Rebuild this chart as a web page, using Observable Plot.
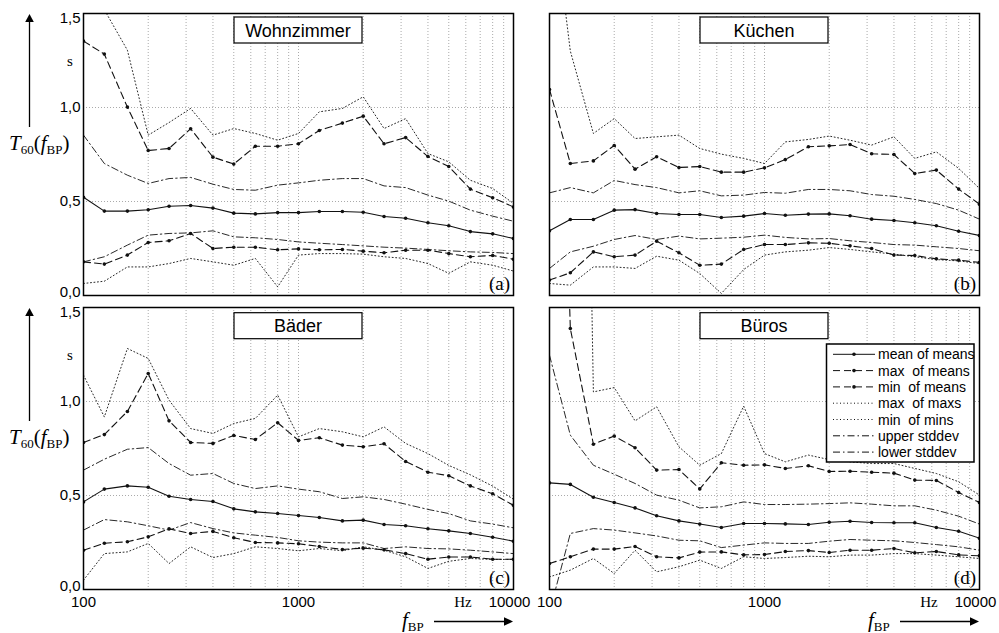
<!DOCTYPE html>
<html><head><meta charset="utf-8">
<script src="https://cdn.jsdelivr.net/npm/d3@7"></script>
<script src="https://cdn.jsdelivr.net/npm/@observablehq/plot@0.6"></script>
<style>
body{margin:0;background:#fff;}
#wrap{position:relative;width:999px;height:633px;overflow:hidden;background:#fff;font-family:"Liberation Sans",Arial,sans-serif;}
#wrap svg{position:absolute;}
g[aria-label="y-axis tick label"], g[aria-label="x-axis tick label"]{font-size:15px !important;}
</style></head><body><div id="wrap"></div>
<script>
// third-octave band centre frequencies (Hz)
const freqs = [100,125,160,200,250,315,400,500,630,800,1000,1250,1600,2000,2500,3150,4000,5000,6300,8000,10000];
const xTickLabels = [100, 1000];
const xTickLast = [10000];
const yTickMid = [0.5, 1.0];
const yTickTop = [1.5];
const yTickBottom = [0];
const legendLabels = ["mean of means","max  of means","min  of means","max  of maxs","min  of mins","upper stddev","lower stddev"];
const roomNames = ["Wohnzimmer","Küchen","Bäder","Büros"];
const panelTags = ["(a)","(b)","(c)","(d)"];

// (a) Wohnzimmer
const meanA    = [0.523,0.449,0.449,0.456,0.475,0.479,0.465,0.438,0.434,0.441,0.441,0.447,0.447,0.443,0.420,0.411,0.387,0.371,0.340,0.328,0.303];
const maxMeanA = [1.353,1.284,1.002,0.771,0.782,0.887,0.736,0.699,0.794,0.794,0.807,0.878,0.917,0.954,0.807,0.840,0.739,0.686,0.566,0.520,0.471];
const minMeanA = [0.179,0.167,0.215,0.282,0.291,0.330,0.250,0.257,0.257,0.243,0.248,0.243,0.245,0.236,0.227,0.241,0.241,0.223,0.206,0.213,0.193];
const maxMaxA  = [1.75,1.52,1.305,0.853,0.92,0.995,0.853,0.888,0.862,0.826,0.862,0.977,0.995,1.057,0.888,0.941,0.755,0.711,0.613,0.569,0.49];
const minMinA  = [0.064,0.076,0.152,0.152,0.170,0.197,0.179,0.161,0.197,0.046,0.215,0.223,0.223,0.220,0.206,0.197,0.170,0.118,0.179,0.161,0.13];
const upperA   = [0.853,0.702,0.640,0.596,0.622,0.628,0.592,0.564,0.560,0.587,0.599,0.613,0.622,0.622,0.583,0.574,0.534,0.502,0.454,0.422,0.395];
const lowerA   = [0.179,0.206,0.268,0.321,0.330,0.333,0.344,0.312,0.307,0.298,0.285,0.278,0.271,0.264,0.257,0.252,0.245,0.238,0.232,0.229,0.223];

// (b) Küchen
const meanB    = [0.344,0.404,0.404,0.454,0.457,0.436,0.431,0.431,0.415,0.422,0.436,0.427,0.433,0.434,0.424,0.406,0.399,0.387,0.371,0.342,0.319];
const maxMeanB = [1.096,0.702,0.716,0.798,0.672,0.738,0.681,0.686,0.656,0.656,0.679,0.723,0.791,0.796,0.803,0.754,0.750,0.649,0.667,0.566,0.486];
const minMeanB = [0.082,0.121,0.232,0.206,0.215,0.289,0.227,0.161,0.167,0.245,0.271,0.271,0.280,0.278,0.264,0.250,0.215,0.213,0.195,0.188,0.176];
const maxMaxB  = [2.2,1.30,0.862,0.941,0.835,0.844,0.853,0.782,0.752,0.729,0.702,0.817,0.830,0.848,0.826,0.800,0.844,0.729,0.764,0.676,0.569];
const minMinB  = [0.064,0.055,0.152,0.152,0.144,0.209,0.188,0.117,0.011,0.138,0.215,0.232,0.241,0.255,0.245,0.232,0.220,0.206,0.191,0.184,0.170];
const upperB   = [0.546,0.574,0.546,0.612,0.590,0.574,0.546,0.557,0.530,0.534,0.548,0.544,0.564,0.564,0.557,0.537,0.528,0.511,0.489,0.454,0.406];
const lowerB   = [0.144,0.232,0.262,0.298,0.319,0.298,0.316,0.301,0.305,0.310,0.321,0.309,0.301,0.303,0.291,0.282,0.271,0.268,0.259,0.250,0.238];

// (c) Bäder
const meanC    = [0.466,0.534,0.551,0.544,0.496,0.479,0.468,0.429,0.413,0.404,0.394,0.383,0.365,0.369,0.346,0.339,0.323,0.312,0.298,0.278,0.257];
const maxMeanC = [0.782,0.824,0.947,1.149,0.897,0.782,0.777,0.819,0.798,0.887,0.793,0.807,0.768,0.759,0.775,0.681,0.624,0.605,0.551,0.509,0.448];
const minMeanC = [0.209,0.246,0.254,0.280,0.323,0.298,0.309,0.275,0.250,0.248,0.243,0.229,0.213,0.220,0.211,0.191,0.161,0.173,0.173,0.161,0.161];
const maxMaxC  = [1.140,0.918,1.282,1.229,1.007,0.856,0.830,0.883,0.910,1.034,0.812,0.856,0.839,0.812,0.865,0.777,0.723,0.66,0.61,0.55,0.48];
const minMinC  = [0.050,0.191,0.200,0.245,0.138,0.227,0.170,0.191,0.227,0.218,0.206,0.218,0.206,0.227,0.209,0.174,0.112,0.150,0.165,0.160,0.160];
const upperC   = [0.635,0.693,0.746,0.755,0.670,0.608,0.617,0.564,0.537,0.551,0.534,0.520,0.484,0.493,0.479,0.454,0.426,0.404,0.365,0.348,0.328];
const lowerC   = [0.316,0.372,0.360,0.339,0.316,0.356,0.324,0.301,0.289,0.277,0.259,0.252,0.248,0.248,0.218,0.227,0.218,0.216,0.209,0.200,0.191];

// (d) Büros
const meanD    = [0.567,0.559,0.491,0.463,0.434,0.392,0.365,0.348,0.330,0.351,0.351,0.349,0.346,0.358,0.363,0.356,0.355,0.355,0.330,0.310,0.273];
const maxMeanD = [5.0,1.388,0.773,0.816,0.754,0.635,0.638,0.535,0.674,0.661,0.663,0.644,0.658,0.628,0.629,0.624,0.619,0.582,0.580,0.516,0.463];
const minMeanD = [0.138,0.174,0.215,0.215,0.229,0.174,0.168,0.199,0.200,0.184,0.186,0.202,0.207,0.197,0.209,0.209,0.218,0.195,0.202,0.184,0.179];
const maxMaxD  = [8.0,8.0,1.051,1.074,0.897,0.972,0.759,0.661,0.723,0.975,0.723,0.679,0.715,0.691,0.679,0.670,0.670,0.644,0.617,0.573,0.502];
const minMinD  = [0.067,0.103,0.165,0.085,0.209,0.094,0.121,0.156,0.112,0.174,0.165,0.170,0.177,0.174,0.183,0.183,0.191,0.191,0.183,0.174,0.165];
const upperD   = [1.246,0.821,0.661,0.613,0.564,0.502,0.475,0.434,0.440,0.466,0.452,0.452,0.454,0.457,0.461,0.454,0.445,0.445,0.422,0.390,0.348];
const lowerD   = [-0.12,0.298,0.324,0.316,0.301,0.285,0.262,0.259,0.223,0.236,0.248,0.245,0.245,0.257,0.266,0.262,0.259,0.250,0.239,0.227,0.209];

const roomSeries = [
  [meanA, maxMeanA, minMeanA, maxMaxA, minMinA, upperA, lowerA],
  [meanB, maxMeanB, minMeanB, maxMaxB, minMinB, upperB, lowerB],
  [meanC, maxMeanC, minMeanC, maxMaxC, minMinC, upperC, lowerC],
  [meanD, maxMeanD, minMeanD, maxMaxD, minMinD, upperD, lowerD]
];

// line styles per series (same order as legendLabels)
const DASH = "7,4", DOT = "1,2.5", DASHDOT = "7,3,1.5,3";
const seriesStyle = [
  {dash: null,    dots: true},
  {dash: DASH,    dots: true},
  {dash: DASH,    dots: true},
  {dash: DOT,     dots: false},
  {dash: DOT,     dots: false},
  {dash: DASHDOT, dots: false},
  {dash: DASHDOT, dots: false}
];

const wrap = document.getElementById("wrap");
const FL = [83, 549], FT = [13, 307], FW = 430, FH = 282;
const gridX = d3.scaleLog().domain([100, 10000]).ticks().filter(t => t > 100 && t < 10000);
const fmt = d => d.toFixed(1).replace(".", ",");
const FONT = "'Liberation Sans', Arial, sans-serif";

roomNames.forEach((name, k) => {
  const col = k % 2, row = Math.floor(k / 2);
  const ml = 45, mr = 10, mt = 12, mb = row ? 32 : 12;
  const marks = [
    Plot.ruleX(gridX, {stroke: "#a0a0a0", strokeDasharray: "1,2", strokeWidth: 0.9}),
    Plot.ruleY([0.5, 1.0], {stroke: "#a0a0a0", strokeDasharray: "1,2", strokeWidth: 0.9})
  ];
  roomSeries[k].forEach((arr, s) => {
    const data = freqs.map((f, i) => ({f, v: arr[i]}));
    const st = seriesStyle[s];
    marks.push(Plot.line(data, {x: "f", y: "v", stroke: "#111", strokeWidth: s >= 3 ? 0.9 : 1.1, strokeDasharray: st.dash, clip: true}));
    if (st.dots) marks.push(Plot.dot(data, {x: "f", y: "v", r: 1.8, fill: "#111", stroke: "none", clip: true}));
  });
  marks.push(Plot.frame({stroke: "#000", strokeWidth: 1.5}));
  if (col === 0) {
    const yo = {tickSize: 0, tickPadding: 3, tickFormat: fmt, label: null, fontSize: 15};
    marks.push(Plot.axisY(yTickMid, yo));
    marks.push(Plot.axisY(yTickTop, {...yo, dy: 5}));
    marks.push(Plot.axisY(yTickBottom, {...yo, dy: -3}));
  }
  if (row === 1) {
    const xo = {tickSize: 0, tickPadding: 7, tickFormat: d => String(d), label: null, fontSize: 15};
    marks.push(Plot.axisX(xTickLabels, xo));
    marks.push(Plot.axisX(xTickLast, {...xo, dx: -4}));
  }
  const svg = Plot.plot({
    width: ml + FW + mr, height: mt + FH + mb,
    marginLeft: ml, marginRight: mr, marginTop: mt, marginBottom: mb,
    x: {type: "log", domain: [100, 10000], axis: null},
    y: {domain: [0, 1.5], axis: null},
    style: {background: "transparent", overflow: "visible", fontFamily: FONT, fontSize: "15px", color: "#000"},
    marks
  });
  svg.style.left = (FL[col] - ml) + "px";
  svg.style.top = (FT[row] - mt) + "px";
  svg.style.maxWidth = "none";
  wrap.appendChild(svg);
});

// annotation overlay: titles, panel tags, axis captions, legend
const NS = "http://www.w3.org/2000/svg";
const ov = document.createElementNS(NS, "svg");
ov.setAttribute("width", 999); ov.setAttribute("height", 633);
ov.style.left = "0px"; ov.style.top = "0px";
let h = "";
const SERIF = "'Liberation Serif','Times New Roman',serif";
roomNames.forEach((name, k) => {
  const col = k % 2, row = Math.floor(k / 2);
  const cx = FL[col] + FW / 2, ty = FT[row] + 4 + (row ? 1.7 : 0);
  h += `<rect x="${cx - 64}" y="${ty}" width="128" height="26" fill="#fff" stroke="#000" stroke-width="1.2"/>`;
  h += `<text x="${cx}" y="${ty + 19.5}" text-anchor="middle" font-family="${FONT}" font-size="18">${name}</text>`;
  h += `<text x="${FL[col] + FW - 3}" y="${FT[row] + FH - 5}" text-anchor="end" font-family="${SERIF}" font-size="19">${panelTags[k]}</text>`;
});
[0, 1].forEach(row => {
  const o = FT[row] - 13;
  // y caption with arrow
  h += `<line x1="29.5" y1="${o + 127}" x2="29.5" y2="${o + 21}" stroke="#000" stroke-width="1.3"/>`;
  h += `<path d="M29.5,${o + 14} L25.2,${o + 22} L33.8,${o + 22} Z" fill="#000"/>`;
  h += `<text x="9" y="${o + 150}" font-family="${SERIF}" font-size="21"><tspan font-style="italic">T</tspan><tspan font-size="13" dy="4">60</tspan><tspan dy="-4">(</tspan><tspan font-style="italic">f</tspan><tspan font-size="13" dy="4">BP</tspan><tspan dy="-4">)</tspan></text>`;
  h += `<text x="70" y="${o + 66}" text-anchor="middle" font-family="${SERIF}" font-size="15">s</text>`;
});
[0, 1].forEach(col => {
  const R = FL[col] + FW;
  h += `<text x="${R - 50}" y="607" text-anchor="middle" font-family="${SERIF}" font-size="15">Hz</text>`;
  h += `<text x="${R - 111}" y="627" font-family="${SERIF}" font-size="21"><tspan font-style="italic">f</tspan><tspan font-size="13" dy="4">BP</tspan></text>`;
  h += `<line x1="${R - 79}" y1="621.5" x2="${R - 8}" y2="621.5" stroke="#000" stroke-width="1.3"/>`;
  h += `<path d="M${R},621.5 L${R - 9},617.2 L${R - 9},625.8 Z" fill="#000"/>`;
});
// legend in panel d
const lx = 826.5, ly = 344;
h += `<rect x="${lx}" y="${ly}" width="147.5" height="118" fill="#fff" stroke="#000" stroke-width="1.5"/>`;
legendLabels.forEach((lab, i) => {
  const cy = 354.3 + 16.3 * i;
  const st = seriesStyle[i];
  h += `<line x1="833" y1="${cy}" x2="875" y2="${cy}" stroke="#111" stroke-width="1" ${st.dash ? `stroke-dasharray="${st.dash}"` : ""}/>`;
  if (st.dots) h += `<circle cx="854" cy="${cy}" r="1.8" fill="#111"/>`;
  h += `<text x="878" y="${cy + 5}" font-family="${FONT}" font-size="14" xml:space="preserve">${lab}</text>`;
});
ov.innerHTML = h;
wrap.appendChild(ov);
</script></body></html>
